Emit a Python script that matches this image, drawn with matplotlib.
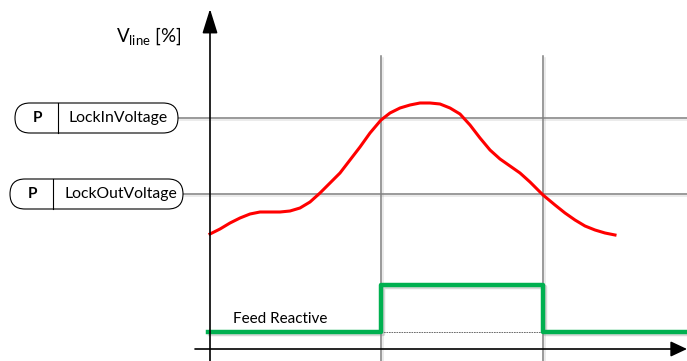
import matplotlib
matplotlib.use("Agg")
import matplotlib.pyplot as plt
import matplotlib.patheffects as pe
from matplotlib.patches import FancyBboxPatch

plt.rcParams['font.family'] = ['Lato', 'DejaVu Sans']
plt.rcParams['mathtext.fontset'] = 'custom'
plt.rcParams['mathtext.rm'] = 'Lato'

# red line: line voltage (picture units, y down)
v_x = [210, 220, 230, 240, 250, 260, 270, 280, 290, 300, 310, 320, 330, 340, 350, 360, 370, 381,
       390, 400, 410, 420, 430, 440, 450, 460, 470, 480, 490, 500, 510, 520, 530, 543,
       555, 565, 575, 585, 595, 605, 615]
v_y = [234, 229, 223, 218, 214, 212, 212, 212, 211, 208, 202, 193, 183, 173, 160, 147, 133, 120,
       113, 108, 105, 103, 103, 104, 108, 114, 125, 138, 150, 159, 166, 173, 182, 195,
       205, 213, 220, 226, 230, 233, 235]

# thresholds
thr_names = ["LockInVoltage", "LockOutVoltage"]
thr_level = [118, 194]

# feed reactive state
feed_t = [208, 381, 543, 687]
feed_state = [0, 1, 0, 0]
feed_low, feed_high = 332, 285

cross_t = [381, 543]

fig = plt.figure(figsize=(6.87, 3.61), dpi=100)
ax = fig.add_axes([0, 0, 1, 1])
ax.set_xlim(0, 687)
ax.set_ylim(361, 0)
ax.axis('off')

shadow = [pe.SimpleLineShadow(offset=(1.2, -1.2), shadow_color='gray', alpha=0.2), pe.Normal()]

# guide lines
box_left = [15, 10]
box_right = [178, 183]
box_div = [58, 53]
for name, lvl, l, r, d in zip(thr_names, thr_level, box_left, box_right, box_div):
    ax.plot([r, 687], [lvl, lvl], color='#7f7f7f', lw=1.1, path_effects=shadow, zorder=2)
    box = FancyBboxPatch((l, lvl - 15), r - l, 30, boxstyle="round,pad=0,rounding_size=15",
                         fc='white', ec='black', lw=0.8, zorder=3)
    ax.add_patch(box)
    ax.plot([d, d], [lvl - 15, lvl + 15], color='black', lw=0.8, zorder=4)
    ax.text((l + d) / 2 + 1, lvl, "P", ha='center', va='center', fontsize=11, fontweight='bold', zorder=5)
    ax.text(d + 11, lvl, name, ha='left', va='center', fontsize=11.3, zorder=5)

for t in cross_t:
    ax.plot([t, t], [56, 361], color='#7f7f7f', lw=1.1, path_effects=shadow, zorder=2)

# axes with arrows
ax.annotate('', xy=(210, 9), xytext=(210, 361),
            arrowprops=dict(arrowstyle='-|>,head_length=1.5,head_width=0.47', lw=1.2,
                            color='black', shrinkA=0, shrinkB=0), zorder=6)
ax.annotate('', xy=(687, 349), xytext=(195, 349),
            arrowprops=dict(arrowstyle='-|>,head_length=1.0,head_width=0.47', lw=1.2,
                            color='black', shrinkA=0, shrinkB=0), zorder=6)
ax.text(116, 42, r'$\mathrm{V_{line}}$ [%]', ha='left', va='baseline', fontsize=13.5)

# dotted baseline under the pulse
ax.plot(cross_t, [feed_low, feed_low], color='#555555', lw=0.6, ls=(0, (2, 1)), zorder=3)

# feed reactive
feed_y = [feed_high if s else feed_low for s in feed_state]
ax.step(feed_t, feed_y, where='post', color='#00B050', lw=3.2, solid_joinstyle='round',
        path_effects=[pe.SimpleLineShadow(offset=(1.5, -1.5), shadow_color='gray', alpha=0.3), pe.Normal()],
        zorder=4)
ax.text(233, 323, "Feed Reactive", ha='left', va='baseline', fontsize=11)

# line voltage
ax.plot(v_x, v_y, color='#FF0000', lw=2.2, solid_joinstyle='round', zorder=5)

fig.savefig("out.png", dpi=100)
